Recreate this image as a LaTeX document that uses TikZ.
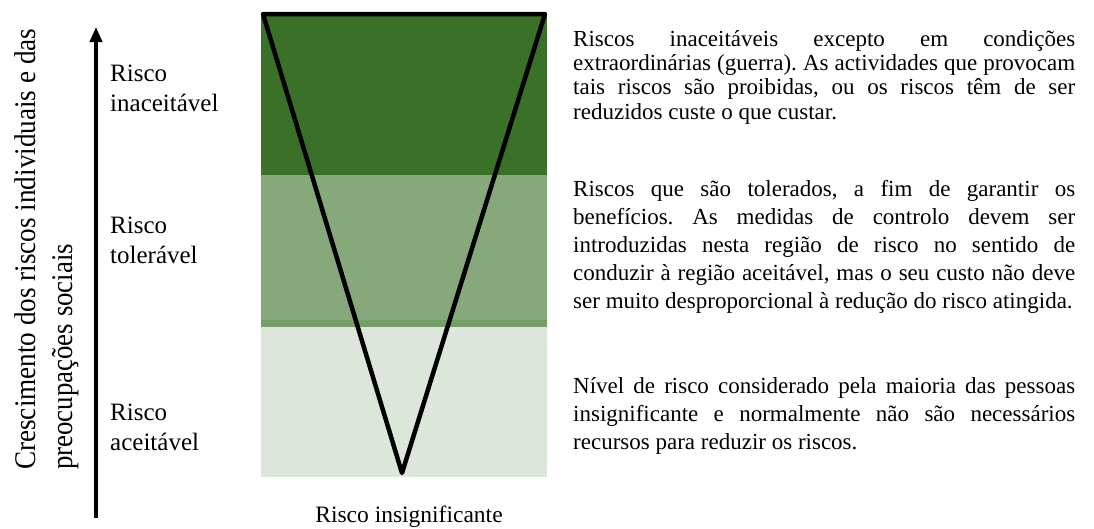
\documentclass[tikz,border=0pt]{standalone}
\usepackage{fontspec}
\setmainfont{Liberation Serif}
\usetikzlibrary{arrows.meta}
\frenchspacing
\definecolor{gdark}{HTML}{3A7027}
\definecolor{gmid}{HTML}{87A87B}
\definecolor{gstrip}{HTML}{769E68}
\definecolor{glight}{HTML}{DCE6DA}
\tikzset{
  lbl/.style={anchor=base west, inner sep=0pt, font=\rmfamily\fontsize{25}{30}\selectfont},
  desc/.style={anchor=base west, inner sep=0pt, font=\rmfamily},
  vee/.style={line width=4.5pt, line join=round, line cap=round},
  axis/.style={line width=4.2pt, -{Triangle[width=12pt,length=15pt]}}
}
\newcommand{\jline}[1]{\makebox[502pt][s]{#1}}
\begin{document}
\begin{tikzpicture}[x=1pt,y=-1pt]
\useasboundingbox (0,0) rectangle (1094,528);
% bands
\fill[gdark] (261,13) rectangle (547,175);
\fill[gmid] (261,175) rectangle (547,320);
\fill[gstrip] (261,320) rectangle (547,327);
\fill[glight] (261,327) rectangle (547,477);
% inverted triangle
\coordinate (tl) at (263,14);
\coordinate (tr) at (545,14);
\coordinate (ap) at (402,473);
\draw[vee] (tl) -- (tr) -- (ap) -- cycle;
% axis arrow
\coordinate (abot) at (96,518);
\coordinate (atop) at (96,27);
\draw[axis] (abot) -- (atop);
% rotated axis label
\node[anchor=base west, inner sep=0pt, rotate=90, font=\rmfamily\fontsize{30}{37}\selectfont] (ax1) at (35,470) {\scalebox{0.905}[1]{Crescimento dos riscos individuais e das}};
\node[anchor=base west, inner sep=0pt, rotate=90, font=\rmfamily\fontsize{30}{37}\selectfont] (ax2) at (72,470) {\scalebox{0.895}[1]{preocupações sociais}};
% left labels
\node[lbl] (l1) at (110,81.5) {\parbox[t]{200pt}{\rmfamily Risco\\inaceitável}};
\node[lbl] (l2) at (110,233.5) {\parbox[t]{200pt}{\rmfamily Risco\\tolerável}};
\node[lbl] (l3) at (110,420) {\parbox[t]{200pt}{\rmfamily Risco\\aceitável}};
% bottom label
\node[anchor=base, inner sep=0pt, font=\rmfamily\fontsize{23.5}{28}\selectfont] (bot) at (409,522) {Risco insignificante};
% descriptions
\node[desc] (d1) at (573,46) {\parbox[t]{502pt}{\rmfamily\fontsize{23}{24.4}\selectfont
\jline{Riscos inaceitáveis excepto em condições}\\
\jline{extraordinárias (guerra). As actividades que provocam}\\
\jline{tais riscos são proibidas, ou os riscos têm de ser}\\
reduzidos custe o que custar.}};
\node[desc] (d2) at (573,196) {\parbox[t]{502pt}{\rmfamily\fontsize{23}{28}\selectfont
\jline{Riscos que são tolerados, a fim de garantir os}\\
\jline{benefícios. As medidas de controlo devem ser}\\
\jline{introduzidas nesta região de risco no sentido de}\\
\jline{conduzir à região aceitável, mas o seu custo não deve}\\
ser muito desproporcional à redução do risco atingida.}};
\node[desc] (d3) at (573,393) {\parbox[t]{502pt}{\rmfamily\fontsize{23}{28}\selectfont
\jline{Nível de risco considerado pela maioria das pessoas}\\
\jline{insignificante e normalmente não são necessários}\\
recursos para reduzir os riscos.}};
\end{tikzpicture}
\end{document}
